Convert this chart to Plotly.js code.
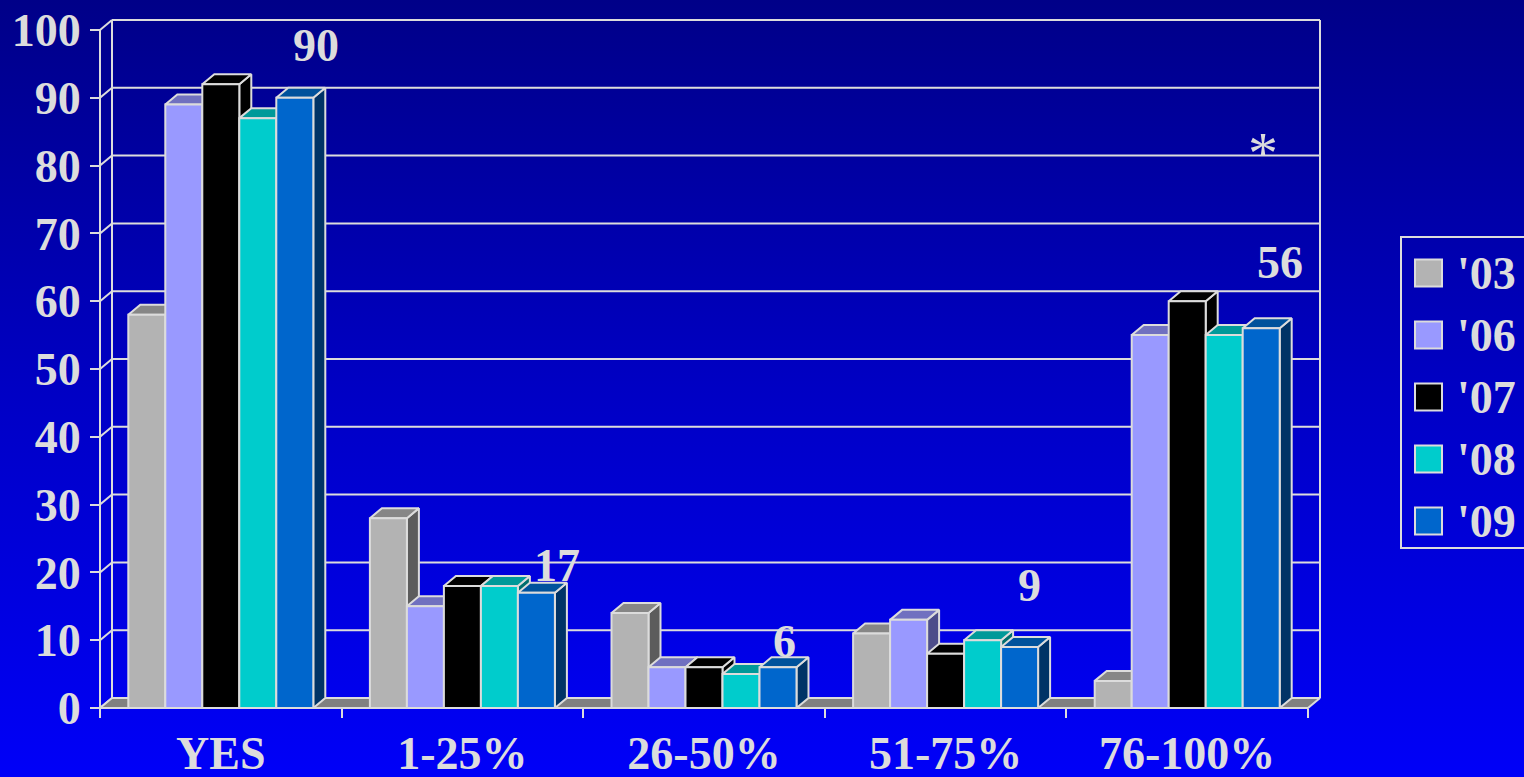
<!DOCTYPE html>
<html><head><meta charset="utf-8">
<script src="https://cdn.plot.ly/plotly-3.0.1.min.js"></script>
<style>
html,body{margin:0;padding:0;width:1524px;height:777px;overflow:hidden;
  background:linear-gradient(to bottom,#000088 0%,#0000c4 50%,#0000f8 100%);}
#chart{width:1524px;height:777px;}
</style></head><body><div id="chart"></div>
<script>
// ---------- data ----------
const categories = ['YES', '1-25%', '26-50%', '51-75%', '76-100%'];
const seriesNames = ["'03", "'06", "'07", "'08", "'09"];
const v03 = [58, 28, 14, 11, 4];
const v06 = [89, 15, 6, 13, 55];
const v07 = [92, 18, 6, 8, 60];
const v08 = [87, 18, 5, 10, 55];
const v09 = [90, 17, 6, 9, 56];
const yTicks = [0, 10, 20, 30, 40, 50, 60, 70, 80, 90, 100];
const noteMark = '*';

// ---------- styles ----------
const frontColors = ['#b3b3b3', '#9999ff', '#000000', '#00cccc', '#0066cc'];
const topColors   = ['#868686', '#7070c0', '#000000', '#009999', '#00529c'];
const sideColors  = ['#5c5c5c', '#4d4d8a', '#000000', '#006e6e', '#003366'];
const EDGE = '#dcdcdc';
const FONT = {family: 'Liberation Serif, Times New Roman, serif', size: 46, color: '#dcdcdc', weight: 700};

// ---------- geometry (px) ----------
const W = 1524, H = 777;
const PX_X = 241.6, PX_Y = 6.78;
const FRONT_LEFT = 100, BASE = 708;
const ML = 95, MR = 199, MT = 15, MB = 66;
const PW = W - ML - MR, PH = H - MT - MB;
const xmin = -0.5 - (FRONT_LEFT - ML) / PX_X, xmax = xmin + PW / PX_X;
const ymin = -(H - MB - BASE) / PX_Y, ymax = ymin + PH / PX_Y;
const DX = 12 / PX_X, DY = 10 / PX_Y;
const BAR_W = 37 / PX_X, GROUP_START = -92.5 / PX_X;
const nCat = categories.length;
const xL = -0.5, xR = nCat - 0.5, yTop = yTicks[yTicks.length - 1];

const pxToX = px => (px - FRONT_LEFT) / PX_X - 0.5;
const pxToY = py => (BASE - py) / PX_Y;
const paperX = px => (px - ML) / PW;
const paperY = py => (H - MB - py) / PH;

const allSeries = [v03, v06, v07, v08, v09];
const traces = [];
function poly(xs, ys, fill) {
  traces.push({type: 'scatter', mode: 'lines', x: xs.concat([xs[0]]), y: ys.concat([ys[0]]),
    fill: 'toself', fillcolor: fill, line: {color: EDGE, width: 2}, hoverinfo: 'skip', showlegend: false});
}
// floor
poly([xL, xR, xR + DX, xL + DX], [0, 0, DY, DY], '#808080');
// 3D bars
for (let c = 0; c < nCat; c++) {
  allSeries.forEach((vals, s) => {
    const v = vals[c];
    const x0 = c + GROUP_START + s * BAR_W, x1 = x0 + BAR_W;
    poly([x1, x1 + DX, x1 + DX, x1], [0, DY, v + DY, v], sideColors[s]);
    poly([x0, x1, x1 + DX, x0 + DX], [v, v, v + DY, v + DY], topColors[s]);
    poly([x0, x1, x1, x0], [0, 0, v, v], frontColors[s]);
  });
}

// walls / gridlines
const shapes = [];
const ln = (x0, y0, x1, y1) => shapes.push({type: 'line', xref: 'x', yref: 'y', x0, y0, x1, y1,
  layer: 'below', line: {color: EDGE, width: 2}});
yTicks.forEach(t => { ln(xL + DX, t + DY, xR + DX, t + DY); ln(xL, t, xL + DX, t + DY); });
ln(xL + DX, DY, xL + DX, yTop + DY);
ln(xR + DX, DY, xR + DX, yTop + DY);
ln(xL, 0, xL, yTop);
ln(xL, 0, xR, 0);

// custom legend
const LEG_ITEM0 = 273, LEG_STEP = 62;
shapes.push({type: 'rect', xref: 'paper', yref: 'paper', x0: paperX(1401), x1: paperX(1535),
  y0: paperY(237), y1: paperY(548), line: {color: EDGE, width: 2}, fillcolor: 'rgba(0,0,0,0)'});
const annotations = [];
seriesNames.forEach((name, s) => {
  const cy = LEG_ITEM0 + s * LEG_STEP;
  shapes.push({type: 'rect', xref: 'paper', yref: 'paper', x0: paperX(1415), x1: paperX(1442),
    y0: paperY(cy + 13.5), y1: paperY(cy - 13.5), line: {color: EDGE, width: 2}, fillcolor: frontColors[s]});
  annotations.push({xref: 'paper', yref: 'paper', x: paperX(1455), y: paperY(cy), xanchor: 'left',
    yanchor: 'middle', text: name, showarrow: false, font: FONT});
});

// value labels ('09 series)
const labelPos = [[316, 45], [557, 565], [784, 641], [1029, 585], [1280, 262]];
v09.forEach((v, c) => {
  annotations.push({xref: 'x', yref: 'y', x: pxToX(labelPos[c][0]), y: pxToY(labelPos[c][1]),
    xanchor: 'center', yanchor: 'middle', text: String(v), showarrow: false, font: FONT});
});
annotations.push({xref: 'x', yref: 'y', x: pxToX(1263), y: pxToY(153), xanchor: 'center', yanchor: 'middle',
  text: noteMark, showarrow: false, font: Object.assign({}, FONT, {size: 60, weight: 400})});

const layout = {
  width: W, height: H,
  margin: {l: ML, r: MR, t: MT, b: MB, pad: 0},
  paper_bgcolor: 'rgba(0,0,0,0)', plot_bgcolor: 'rgba(0,0,0,0)',
  showlegend: false,
  xaxis: {range: [xmin, xmax], anchor: 'free', position: paperY(BASE),
    tickmode: 'array', tickvals: Array.from({length: nCat + 1}, (_, i) => i - 0.5),
    ticks: 'outside', ticklen: 9, tickwidth: 2, tickcolor: EDGE, showticklabels: false,
    showgrid: false, zeroline: false, showline: false, fixedrange: true},
  xaxis2: {range: [xmin, xmax], overlaying: 'x', anchor: 'free', position: paperY(BASE),
    tickmode: 'array', tickvals: categories.map((_, i) => i), ticktext: categories,
    ticks: 'outside', ticklen: 5, tickcolor: 'rgba(0,0,0,0)', tickfont: FONT,
    showgrid: false, zeroline: false, showline: false, fixedrange: true},
  yaxis: {range: [ymin, ymax], anchor: 'free', position: paperX(FRONT_LEFT),
    tickmode: 'array', tickvals: yTicks, ticks: 'outside', ticklen: 10, tickwidth: 2, tickcolor: EDGE,
    tickfont: FONT, showgrid: false, zeroline: false, showline: false, fixedrange: true},
  shapes, annotations
};
// invisible trace so that the category axis is drawn
traces.push({type: 'scatter', x: [0], y: [0], xaxis: 'x2', yaxis: 'y', mode: 'markers',
  marker: {opacity: 0}, hoverinfo: 'skip', showlegend: false});
Plotly.newPlot('chart', traces, layout, {displayModeBar: false, staticPlot: true});
</script></body></html>
